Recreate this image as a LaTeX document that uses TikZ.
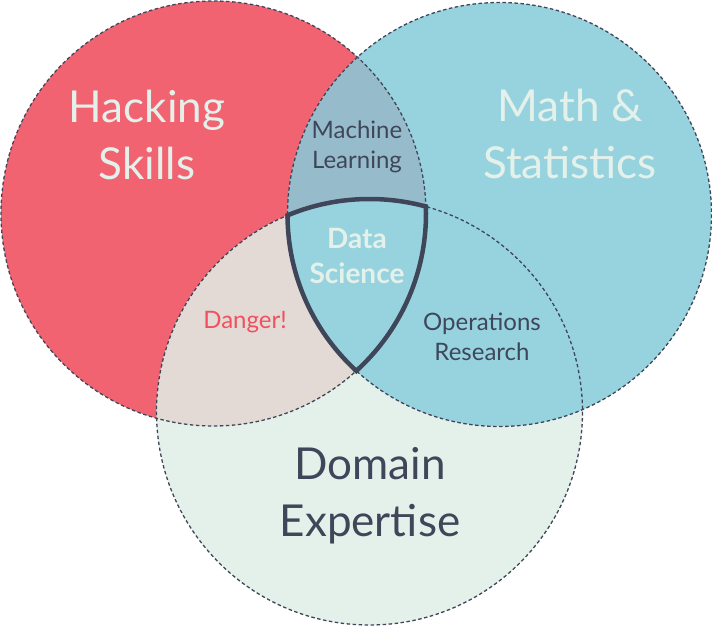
\documentclass[tikz,border=0pt]{standalone}
\usepackage{fontspec}
\setmainfont{Lato}

\definecolor{hackred}{HTML}{F26371}
\definecolor{mathblue}{HTML}{97D3DF}
\definecolor{domgreen}{HTML}{E4F1EA}
\definecolor{mlblue}{HTML}{96BCCB}
\definecolor{dangertan}{HTML}{E3DAD5}
\definecolor{inkdark}{HTML}{3F4659}
\definecolor{paletext}{HTML}{E4F1EA}
\definecolor{dangerred}{HTML}{F0505F}

\tikzset{
  setline/.style={inkdark, line width=1.3pt, dash pattern=on 3.5pt off 2.5pt},
  dsline/.style={inkdark, line width=4.5pt},
  bigtext/.style={font=\fontsize{44}{57}\selectfont, align=center},
  midtext/.style={font=\fontsize{24}{30}\selectfont, align=center, text=inkdark},
}

\begin{document}
\begin{tikzpicture}[x=1pt, y=-1pt]
   % Sizes
   \pgfmathsetmacro{\rh}{212.5}
   \pgfmathsetmacro{\rm}{212}
   \pgfmathsetmacro{\rd}{213}
   \pgfmathsetmacro{\rho}{\rh+2.25}
   \pgfmathsetmacro{\rmo}{\rm+2.25}
   \pgfmathsetmacro{\rdo}{\rd+2.25}
   \useasboundingbox (0,0) rectangle (712,626);

   % centres
   \coordinate (hc) at (213.5, 213.5);
   \coordinate (mc) at (499.5, 214.5);
   \coordinate (dc) at (369.5, 412);

   % fills
   \fill[hackred] (hc) circle[radius=\rh];
   \fill[domgreen] (dc) circle[radius=\rd];
   \fill[mathblue] (mc) circle[radius=\rm];
   \begin{scope}
     \clip (hc) circle[radius=\rh];
     \fill[dangertan] (dc) circle[radius=\rd];
     \fill[mlblue] (mc) circle[radius=\rm];
   \end{scope}
   \begin{scope}
     \clip (hc) circle[radius=\rh];
     \clip (dc) circle[radius=\rd];
     \fill[mathblue] (mc) circle[radius=\rm];
   \end{scope}

   % dashed outlines
   \draw[setline] (hc) circle[radius=\rh];
   \draw[setline] (mc) circle[radius=\rm];
   \draw[setline] (dc) circle[radius=\rd];

   % data science border
   \begin{scope}
     \clip (hc) circle[radius=\rho];
     \clip (mc) circle[radius=\rmo];
     \draw[dsline] (dc) circle[radius=\rd];
   \end{scope}
   \begin{scope}
     \clip (mc) circle[radius=\rmo];
     \clip (dc) circle[radius=\rdo];
     \draw[dsline] (hc) circle[radius=\rh];
   \end{scope}
   \begin{scope}
     \clip (hc) circle[radius=\rho];
     \clip (dc) circle[radius=\rdo];
     \draw[dsline] (mc) circle[radius=\rm];
   \end{scope}

   % labels
   \node[bigtext, text=paletext] (hacking) at (147, 135) {Hacking\\Skills};
   \node[bigtext, text=paletext] (math) at (570, 134) {Math \&\\Statistics};
   \node[bigtext, text=inkdark] (domain) at (370, 496) {Domain\\Expertise};
   \node[midtext] (ml) at (357, 147) {Machine\\Learning};
   \node[midtext] (or) at (482, 337) {Operations\\Research};
   \node[midtext, text=paletext, font=\fontsize{28}{35}\selectfont\bfseries] (ds) at (357, 256) {Data\\Science};
   \node[midtext, text=dangerred] (danger) at (245, 322) {Danger!};
\end{tikzpicture}
\end{document}
